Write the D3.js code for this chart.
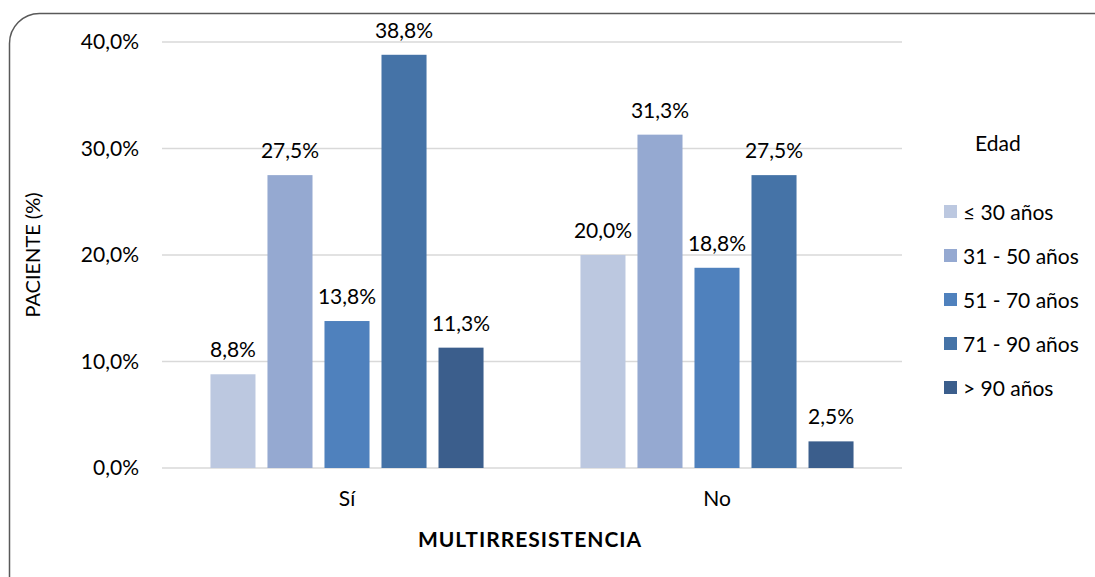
<!DOCTYPE html>
<html>
<head>
<meta charset="utf-8">
<script src="https://cdn.jsdelivr.net/npm/d3@7"></script>
<style>
  body { margin: 0; background: #fff; }
  text { font-family: Lato, "Open Sans", sans-serif; fill: #000; }
</style>
</head>
<body>
<div id="chart"></div>
<script>
// Data
const categories = ["Sí", "No"];
const ageGroups = ["≤ 30 años", "31 - 50 años", "51 - 70 años", "71 - 90 años", "> 90 años"];
const siValues = [8.8, 27.5, 13.8, 38.8, 11.3];
const noValues = [20.0, 31.3, 18.8, 27.5, 2.5];
const yTicks = [0, 10, 20, 30, 40];
const colors = ["#bcc8e0", "#95a9d1", "#4f81bd", "#4573a7", "#3b5e8c"];

const W = 1095, H = 577;
const margin = {top: 42, left: 162, right: 193, bottom: 109};
const width = W - margin.left - margin.right;
const height = H - margin.top - margin.bottom;
const fs = 21;

const svg = d3.select("#chart").append("svg")
    .attr("width", W).attr("height", H);

// Rounded outer frame (runs past right and bottom edges)
svg.append("rect")
    .attr("x", 9.5).attr("y", 13.5)
    .attr("width", 1130).attr("height", 620)
    .attr("rx", 30).attr("ry", 30)
    .attr("fill", "none").attr("stroke", "#595959").attr("stroke-width", 1.5);

const g = svg.append("g").attr("transform", `translate(${margin.left},${margin.top})`);

const x0 = d3.scaleBand().domain(categories).range([0, width]);
const x1 = d3.scaleBand().domain(ageGroups).range([0, x0.bandwidth()]).paddingInner(0.21).paddingOuter(0.85);
const y = d3.scaleLinear().domain([0, 40]).range([height, 0]);
const color = d3.scaleOrdinal().domain(ageGroups).range(colors);

const fmt = v => v.toFixed(1).replace(".", ",") + "%";

// Gridlines
g.selectAll(".grid").data(yTicks).join("line")
    .attr("x1", 0).attr("x2", width)
    .attr("y1", d => y(d)).attr("y2", d => y(d))
    .attr("stroke", "#d9d9d9").attr("stroke-width", 1.3);

// Y axis labels
const yAxis = g.append("g").call(d3.axisLeft(y).tickValues(yTicks).tickSize(0).tickPadding(23).tickFormat(fmt));
yAxis.select(".domain").remove();
yAxis.attr("font-family", null).attr("font-size", fs);

// X axis labels
const xAxis = g.append("g").attr("transform", `translate(0,${height})`)
    .call(d3.axisBottom(x0).tickSize(0).tickPadding(23));
xAxis.select(".domain").remove();
xAxis.attr("font-family", null).attr("font-size", fs);

const rows = categories.map((c, i) => ({cat: c, values: i === 0 ? siValues : noValues}));

const groups = g.selectAll(".grp").data(rows).join("g")
    .attr("transform", d => `translate(${x0(d.cat)},0)`);

groups.selectAll("rect").data(d => d.values.map((v, i) => ({key: ageGroups[i], v})))
    .join("rect")
    .attr("x", d => x1(d.key)).attr("width", x1.bandwidth())
    .attr("y", d => y(d.v)).attr("height", d => height - y(d.v))
    .attr("fill", d => color(d.key));

groups.selectAll(".lbl").data(d => d.values.map((v, i) => ({key: ageGroups[i], v})))
    .join("text")
    .attr("x", d => x1(d.key) + x1.bandwidth() / 2)
    .attr("y", d => y(d.v) - 17)
    .attr("text-anchor", "middle").attr("font-size", fs)
    .text(d => fmt(d.v));

// Axis titles
svg.append("text")
    .attr("transform", `translate(40,${margin.top + height / 2}) rotate(-90)`)
    .attr("text-anchor", "middle").attr("font-size", 20)
    .text("PACIENTE (%)");

svg.append("text")
    .attr("x", margin.left + width / 2 - 2).attr("y", 547)
    .attr("text-anchor", "middle").attr("font-size", 21).attr("font-weight", "bold")
    .attr("letter-spacing", 1)
    .text("MULTIRRESISTENCIA");

// Legend
const legend = svg.append("g");
legend.append("text").attr("x", 975).attr("y", 151).attr("font-size", fs).text("Edad");
const item = legend.selectAll(".item").data(ageGroups).join("g")
    .attr("transform", (d, i) => `translate(944,${212 + i * 44})`);
item.append("rect").attr("x", 0).attr("y", -7).attr("width", 13).attr("height", 13)
    .attr("fill", d => color(d));
item.append("text").attr("x", 19).attr("y", 8).attr("font-size", fs).text(d => d);
</script>
</body>
</html>
